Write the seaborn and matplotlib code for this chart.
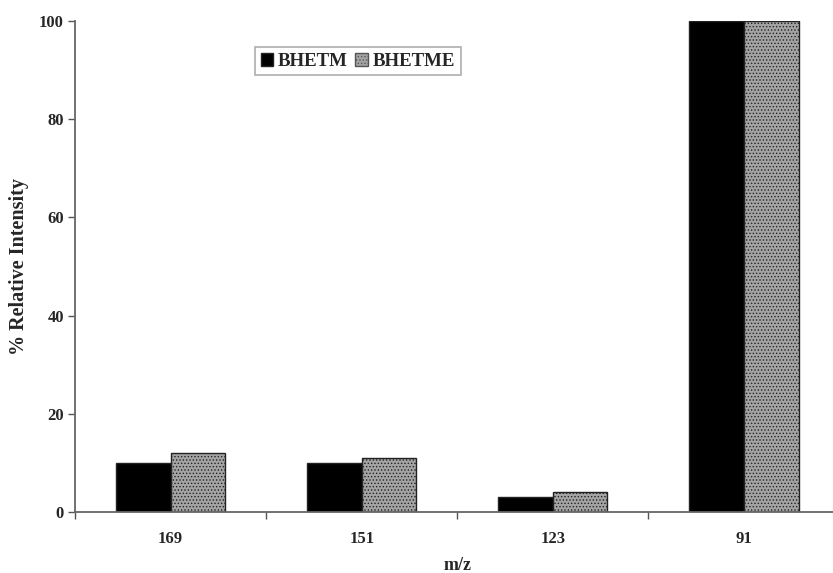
import pandas as pd
import seaborn as sns
import matplotlib
matplotlib.use('Agg')
import matplotlib.pyplot as plt

# values
mz = ['169', '151', '123', '91']
bhetm = [10, 10, 3, 100]
bhetme = [12, 11, 4, 100]
series = ['BHETM', 'BHETME']
yticks = [0, 20, 40, 60, 80, 100]

df = pd.DataFrame({
    'm/z': mz * 2,
    'intensity': bhetm + bhetme,
    'compound': [series[0]] * len(mz) + [series[1]] * len(mz),
})

sns.set_style('white')
plt.rcParams['font.family'] = ['Liberation Serif', 'DejaVu Serif']
plt.rcParams['font.weight'] = 'bold'
plt.rcParams['hatch.color'] = '#8a8a8a'
plt.rcParams['hatch.linewidth'] = 0.6

fig = plt.figure(figsize=(8.33, 5.73), dpi=100)
ax = fig.add_axes([0.090, 0.1065, 0.918, 0.857])

sns.barplot(data=df, x='m/z', y='intensity', hue='compound', order=mz,
            hue_order=series, palette=['black', '#a4a4a4'], width=0.571,
            edgecolor='#222222', linewidth=1.0, saturation=1, ax=ax,
            legend=False)

# dotted texture on the grey bars
for bar in ax.patches[len(mz):]:
    bar.set_hatch('.....')

ax.set_xlim(-0.5, 3.5)
ax.set_ylim(0, 100)
ax.set_yticks(yticks)
ax.tick_params(axis='x', which='major', length=0, pad=14, labelsize=12)
ax.set_xticks([-0.5, 0.5, 1.5, 2.5, 3.5], minor=True)
ax.tick_params(axis='x', which='minor', direction='out', length=5,
               width=1, color='#555555', bottom=True)
ax.tick_params(axis='y', direction='out', length=5, width=1,
               color='#555555', left=True, labelsize=12, pad=3)

for s in ['top', 'right']:
    ax.spines[s].set_visible(False)
for s in ['left', 'bottom']:
    ax.spines[s].set_color('#666666')
    ax.spines[s].set_linewidth(1.3)

ax.set_xlabel('m/z', fontsize=13, fontweight='bold', va='top')
ax.xaxis.set_label_coords(0.5, -0.092)
ax.set_ylabel('% Relative Intensity', fontsize=14.5, fontweight='bold')
ax.yaxis.set_label_coords(-0.060, 0.5)

handles = [plt.Rectangle((0, 0), 1, 1, facecolor='black', edgecolor='#222222'),
           plt.Rectangle((0, 0), 1, 1, facecolor='#a4a4a4', edgecolor='#555555',
                         hatch='.....')]
leg = fig.legend(handles, series, loc='upper left',
                 bbox_to_anchor=(255 / 833, 1 - 47 / 573), ncol=2,
                 fancybox=False, frameon=True, edgecolor='#999999',
                 handlelength=0.67, handleheight=0.67, handletextpad=0.25,
                 columnspacing=0.4, borderpad=0.3, borderaxespad=0,
                 prop={'weight': 'bold', 'size': 13.6})
leg.get_frame().set_linewidth(1.2)

fig.savefig('out.png', dpi=100)
